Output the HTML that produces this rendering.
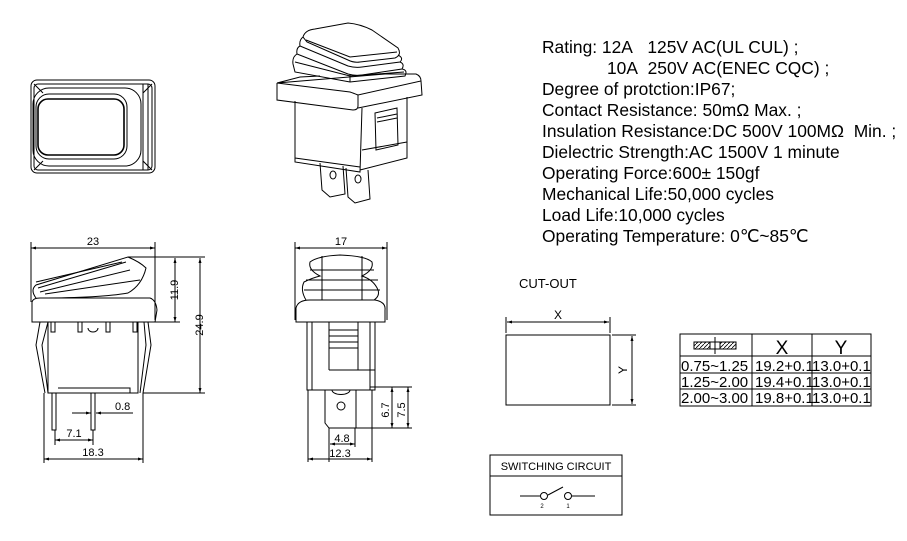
<!DOCTYPE html>
<html><head><style>
body{margin:0;background:#fff;width:907px;height:541px;overflow:hidden}
svg{display:block}
text{font-family:"Liberation Sans",Arial,sans-serif;fill:#000}
</style></head><body>
<svg width="907" height="541" viewBox="0 0 907 541" fill="none" stroke="#000" stroke-width="1">
<defs>
<marker id="a" viewBox="0 0 10 10" refX="10" refY="5" markerWidth="7" markerHeight="5" orient="auto-start-reverse"><path d="M0,2 L10,5 L0,8z" fill="#000" stroke="none"/></marker>
<pattern id="h" width="4" height="4" patternUnits="userSpaceOnUse"><path d="M0,4 L4,0" stroke="#000" stroke-width="0.8"/></pattern>
</defs>
<!-- top view -->
<rect x="31" y="80" width="124" height="93" rx="6"/>
<rect x="34" y="84" width="118" height="86" rx="4"/>
<path d="M34,84 L43,93 M152,84 L143,93 M34,170 L43,161 M152,170 L143,161 M143,84 V170 M148,84 V170"/>
<rect x="33" y="88" width="108" height="78" rx="16"/>
<rect x="36" y="94" width="91" height="65" rx="13"/>
<rect x="38" y="99" width="86" height="56" rx="10" stroke-width="1.6"/>
<!-- iso view -->
<path d="M303,37 Q305,30 315,29 L348,23 Q360,24 372,30 L398,48 Q402,55 395,58 L360,62 Q354,63 348,60 L307,42 Z"/>
<path d="M306,40 L350,57 L397,52"/>
<path d="M303,37 Q299,40 300,46 L348,66 Q355,68 362,67 L400,62 Q404,58 398,55"/>
<path d="M300,46 Q296,48 297,54 L348,74 Q355,76 362,75 L402,69 Q405,64 400,62"/>
<path d="M297,54 Q292,57 293,64 L295,72 L350,82 L405,76 Q408,70 402,69"/>
<path d="M295,62 L350,76 L404,72 M350,74 V82"/>
<path d="M277,83 L300,77 L320,76 M385,74 L416,74 Q421,76 421,81 L358,95 Q353,93 350,92 L277,83 Z"/>
<path d="M277,83 V100 L353,110 Q358,110 358,106 V95 M358,108 L422,95 L421,81"/>
<path d="M295,101 V162 L360,172 L362,108 M407,97 V158 L360,170 M295,158 L360,167 M362,150 L407,142"/>
<path d="M375,113 L397,108 L398,145 L376,150 Z M377,118 L397,114 M377,122 L397,118"/>
<path d="M320,163 L322,190 L330,197 L345,194 L343,166 M346,168 L348,197 L355,203 L370,199 L368,170"/>
<ellipse cx="333" cy="175" rx="3" ry="4"/><ellipse cx="358" cy="179" rx="3" ry="4"/>
<!-- side view -->
<path d="M31,248 H155" marker-start="url(#a)" marker-end="url(#a)"/>
<text x="93" y="245" font-size="11" text-anchor="middle" stroke="none">23</text>
<path d="M31,242 V302 M155,242 V320"/>
<path d="M32,302 Q33,298 40,298 L150,298 Q156,300 157,310 L155,322 L32,322 Z"/>
<path d="M36,298 Q30,290 36,285 L128,257 Q140,262 146,268 Q142,285 128,293 Q100,298 40,298"/>
<path d="M38,288 L126,262 M40,292 L130,270 M36,282 L122,262 M45,294 L140,280"/>
<path d="M128,257 H205"/>
<path d="M155,322 H180 M143,393 H205"/>
<path d="M175,258 V322" marker-start="url(#a)" marker-end="url(#a)"/>
<path d="M200,258 V393" marker-start="url(#a)" marker-end="url(#a)"/>
<text transform="translate(178,290) rotate(-90)" font-size="11" text-anchor="middle" stroke="none">11.9</text>
<text transform="translate(203,325) rotate(-90)" font-size="11" text-anchor="middle" stroke="none">24.9</text>
<path d="M48,322 V393 H138 V322"/>
<path d="M40,322 L36,345 L45,393 M48,322 L42,345 L48,393 M148,322 L151,345 L143,393 M144,322 L146,345 L140,393"/>
<rect x="51" y="322" width="4" height="10"/><rect x="78" y="322" width="4" height="10"/><rect x="106" y="322" width="4" height="10"/><rect x="133" y="322" width="4" height="10"/>
<path d="M88,328 a5,4 0 0 0 10,0"/>
<path d="M58,388 H130 V393"/>
<rect x="52" y="393" width="4" height="37"/><rect x="91" y="393" width="4" height="37"/>
<path d="M55,430 V445 M93,430 V445 M44,393 V463 M143,393 V463"/>
<path d="M72,413 H91" marker-end="url(#a)"/><path d="M133,413 H96" marker-end="url(#a)"/>
<text x="115" y="410" font-size="11" stroke="none">0.8</text>
<path d="M55,440 H93" marker-start="url(#a)" marker-end="url(#a)"/>
<text x="74" y="437" font-size="11" text-anchor="middle" stroke="none">7.1</text>
<path d="M44,459 H143" marker-start="url(#a)" marker-end="url(#a)"/>
<text x="93" y="456" font-size="11" text-anchor="middle" stroke="none">18.3</text>
<!-- front view -->
<path d="M295,248 H387" marker-start="url(#a)" marker-end="url(#a)"/>
<text x="341" y="245" font-size="11" text-anchor="middle" stroke="none">17</text>
<path d="M295,242 V320 M387,242 V320"/>
<path d="M296,322 V308 Q298,300 310,300 H375 Q386,302 385,310 V322 Z"/>
<path d="M306,300 Q300,290 304,282 Q312,278 320,276 Q308,270 310,262 Q318,256 340,255 Q366,256 372,262 Q374,270 362,276 Q374,280 378,290 Q380,296 374,300"/>
<path d="M322,256 V300 M362,256 V300 M306,280 H378 M310,270 H374 M304,290 H380"/>
<path d="M307,322 V390 H375 V322 M312,322 V390 M370,322 V390 M329,322 V370 M358,322 V370 M329,370 H375 M329,330 H358 M329,336 H358 M329,342 H358 M329,348 H358"/>
<path d="M325,390 V423 L329,428 H356 V390 M332,390 a8,4 0 0 0 18,0"/>
<circle cx="341" cy="406" r="4"/>
<path d="M370,387 H412 M356,428 H412"/>
<path d="M392,387 V428" marker-start="url(#a)" marker-end="url(#a)"/>
<path d="M408,387 V428" marker-start="url(#a)" marker-end="url(#a)"/>
<text transform="translate(389,410) rotate(-90)" font-size="11" text-anchor="middle" stroke="none">6.7</text>
<text transform="translate(405,410) rotate(-90)" font-size="11" text-anchor="middle" stroke="none">7.5</text>
<path d="M329,428 V462 M355,428 V447 M308,390 V462 M372,390 V462"/>
<path d="M330,444 H355" marker-start="url(#a)" marker-end="url(#a)"/>
<text x="342" y="442" font-size="11" text-anchor="middle" stroke="none">4.8</text>
<path d="M308,459 H372" marker-start="url(#a)" marker-end="url(#a)"/>
<text x="340" y="457" font-size="11" text-anchor="middle" stroke="none">12.3</text>
<!-- specs -->
<g stroke="none" font-size="17.4">
<text x="542" y="53">Rating: 12A&#160;&#160;&#160;125V AC(UL CUL) ;</text>
<text x="607" y="74">10A&#160;&#160;250V AC(ENEC CQC) ;</text>
<text x="542" y="95">Degree of protction:IP67;</text>
<text x="542" y="116">Contact Resistance: 50mΩ Max. ;</text>
<text x="542" y="137">Insulation Resistance:DC 500V 100MΩ&#160;&#160;Min. ;</text>
<text x="542" y="158">Dielectric Strength:AC 1500V 1 minute</text>
<text x="542" y="179">Operating Force:600± 150gf</text>
<text x="542" y="200">Mechanical Life:50,000 cycles</text>
<text x="542" y="221">Load Life:10,000 cycles</text>
<text x="542" y="242">Operating Temperature: 0℃~85℃</text>
<text x="519" y="288" font-size="13">CUT-OUT</text>
</g>
<!-- cut-out -->
<rect x="506" y="335" width="104" height="70"/>
<path d="M506,317 V333 M610,317 V333 M612,335 H636 M612,405 H636"/>
<path d="M507,322 H609" marker-start="url(#a)" marker-end="url(#a)"/>
<text x="558" y="319" font-size="12" text-anchor="middle" stroke="none">X</text>
<path d="M632,336 V404" marker-start="url(#a)" marker-end="url(#a)"/>
<text transform="translate(627,370) rotate(-90)" font-size="12" text-anchor="middle" stroke="none">Y</text>
<!-- table -->
<rect x="680" y="334" width="191" height="72"/>
<path d="M680,356 H871 M680,373 H871 M680,389 H871 M752,334 V406 M812,334 V406"/>
<rect x="694" y="342" width="42" height="7" fill="url(#h)"/>
<rect x="710" y="342" width="10" height="7" fill="#fff"/>
<path d="M715,337 V354"/>
<g stroke="none" font-size="19" text-anchor="middle"><text x="782" y="354">X</text><text x="841" y="354">Y</text></g>
<g stroke="none" font-size="15">
<text x="681" y="371">0.75~1.25</text><text x="755" y="371">19.2+0.1</text><text x="812" y="371">13.0+0.1</text>
<text x="681" y="387">1.25~2.00</text><text x="755" y="387">19.4+0.1</text><text x="812" y="387">13.0+0.1</text>
<text x="681" y="403">2.00~3.00</text><text x="755" y="403">19.8+0.1</text><text x="812" y="403">13.0+0.1</text>
</g>
<!-- switching circuit -->
<rect x="490" y="455" width="132" height="60"/>
<path d="M490,476 H622"/>
<text x="556" y="470" font-size="11" text-anchor="middle" stroke="none">SWITCHING CIRCUIT</text>
<path d="M520,496 H540 M548,495 L563,487 M572,496 H595"/>
<circle cx="544" cy="496" r="3.5"/><circle cx="568" cy="496" r="3.5"/>
<g stroke="none" font-size="6" text-anchor="middle"><text x="542" y="508">2</text><text x="568" y="508">1</text></g>
</svg>
</body></html>
